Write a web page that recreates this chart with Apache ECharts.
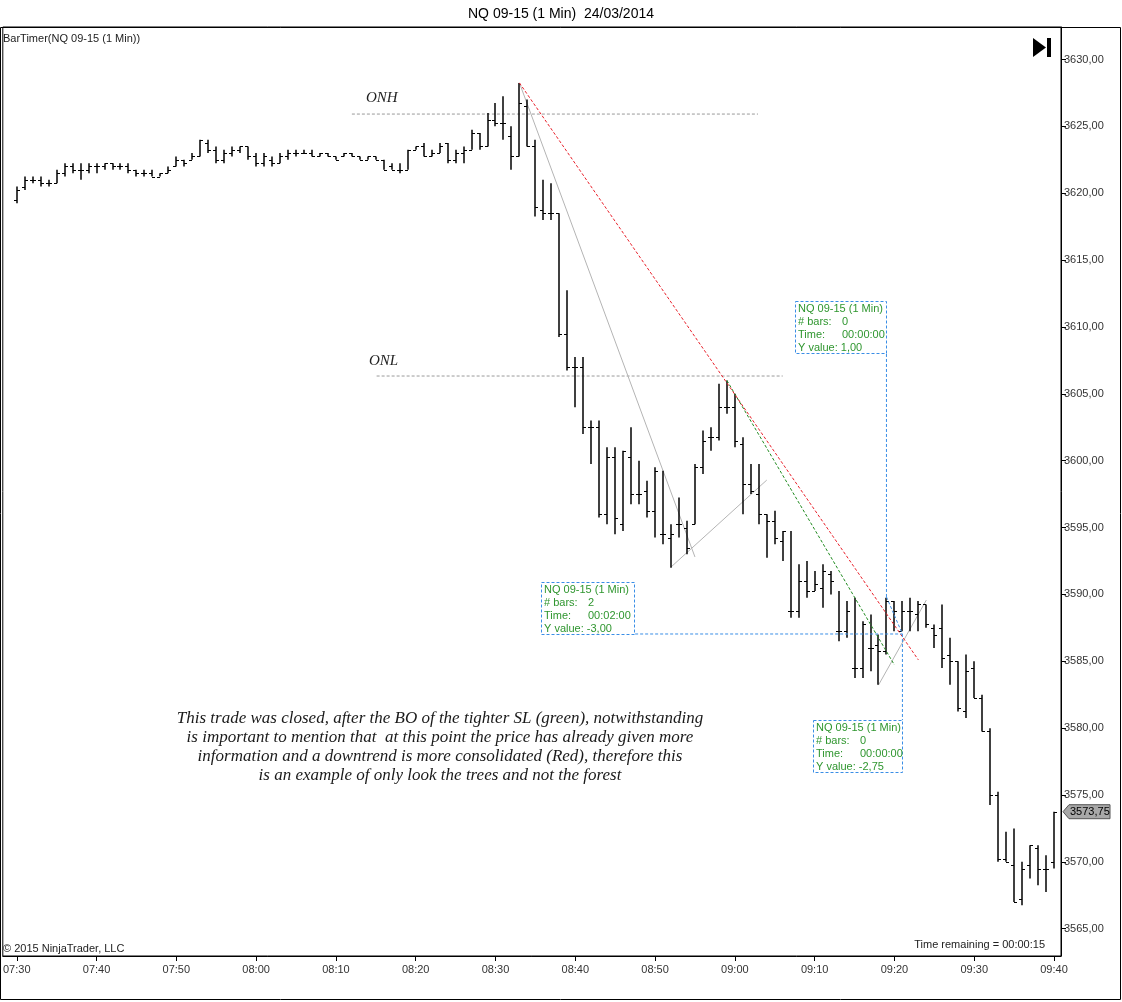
<!DOCTYPE html>
<html>
<head>
<meta charset="utf-8">
<script src="https://cdn.jsdelivr.net/npm/echarts@6/dist/echarts.min.js"></script>
<style>
html, body { margin: 0; padding: 0; background: #fff; }
#chart { width: 1122px; height: 1002px; }
</style>
</head>
<body>
<div id="chart"></div>
<script>
// 1 min bars, 07:30 .. 09:40
var opens = [
    3619.5, 3620.5, 3621.0, 3621.0, 3620.75, 3620.75, 3621.5, 3622.0, 3621.75, 3621.75,
    3622.0, 3622.0, 3622.25, 3622.0, 3622.0, 3621.75, 3621.5, 3621.5, 3621.25, 3621.5,
    3622.0, 3622.5, 3622.5, 3622.75, 3623.75, 3623.25, 3622.5, 3623.0, 3623.25, 3623.5,
    3622.75, 3622.25, 3622.5, 3622.25, 3622.75, 3623.0, 3623.0, 3623.0, 3622.75, 3623.0,
    3622.75, 3622.75, 3623.0, 3622.75, 3622.5, 3622.75, 3622.5, 3622.0, 3621.75, 3621.75,
    3623.25, 3623.5, 3622.75, 3623.0, 3623.75, 3622.5, 3623.0, 3623.25, 3624.5, 3623.5,
    3625.5, 3625.25, 3624.25, 3622.75, 3626.5, 3623.5, 3618.75, 3618.5, 3618.5, 3609.5,
    3607.0, 3607.0, 3602.5, 3602.5, 3596.0, 3600.25, 3595.25, 3600.25, 3597.5, 3597.75,
    3596.25, 3594.5, 3594.25, 3595.25, 3595.0, 3595.25, 3599.5, 3601.75, 3601.75, 3604.0,
    3604.0, 3601.25, 3598.25, 3597.5, 3596.0, 3595.5, 3594.0, 3588.75, 3588.75, 3591.0,
    3590.25, 3590.5, 3591.5, 3587.25, 3587.25, 3584.5, 3584.5, 3586.0, 3586.25, 3585.75,
    3589.5, 3587.25, 3588.75, 3588.5, 3589.25, 3587.5, 3587.5, 3585.5, 3585.0, 3581.25,
    3584.5, 3582.25, 3579.75, 3575.0, 3570.25, 3569.75, 3567.25, 3569.75, 3571.0, 3569.5,
    3570.0
];
var highs = [
    3620.5, 3621.25, 3621.25, 3621.25, 3621.0, 3621.75, 3622.25, 3622.25, 3622.25, 3622.25,
    3622.25, 3622.25, 3622.25, 3622.25, 3622.25, 3621.75, 3621.75, 3621.75, 3621.5, 3622.0,
    3622.75, 3622.5, 3623.0, 3624.0, 3624.0, 3623.5, 3623.25, 3623.5, 3623.5, 3623.5,
    3623.0, 3623.0, 3622.75, 3623.0, 3623.25, 3623.25, 3623.25, 3623.25, 3623.0, 3623.0,
    3622.75, 3623.0, 3623.0, 3622.75, 3622.75, 3622.75, 3622.5, 3622.25, 3622.25, 3623.25,
    3623.5, 3623.75, 3623.25, 3623.75, 3623.75, 3623.25, 3623.5, 3624.75, 3624.5, 3626.0,
    3626.75, 3627.25, 3625.0, 3628.25, 3627.0, 3624.0, 3621.0, 3620.75, 3618.5, 3612.75,
    3607.75, 3607.75, 3603.0, 3603.0, 3601.0, 3601.0, 3600.75, 3602.5, 3600.0, 3598.5,
    3599.5, 3599.25, 3595.25, 3597.25, 3595.5, 3599.75, 3602.25, 3602.5, 3605.75, 3606.0,
    3605.0, 3601.75, 3599.75, 3599.75, 3596.0, 3596.25, 3594.75, 3594.75, 3592.25, 3592.5,
    3591.75, 3592.25, 3591.75, 3590.25, 3589.5, 3589.75, 3588.0, 3588.5, 3587.0, 3589.75,
    3589.5, 3589.5, 3589.75, 3589.5, 3589.25, 3587.75, 3589.25, 3586.75, 3585.0, 3585.5,
    3585.0, 3582.5, 3580.0, 3575.25, 3572.25, 3572.5, 3570.0, 3571.25, 3571.25, 3570.5,
    3573.75
];
var lows = [
    3619.25, 3620.25, 3620.75, 3620.5, 3620.5, 3620.75, 3621.25, 3621.5, 3621.0, 3621.5,
    3621.5, 3621.75, 3621.75, 3621.75, 3621.5, 3621.25, 3621.25, 3621.25, 3621.25, 3621.5,
    3622.0, 3622.0, 3622.5, 3622.75, 3623.0, 3622.25, 3622.25, 3622.75, 3623.0, 3622.5,
    3622.0, 3622.0, 3622.0, 3622.25, 3622.5, 3622.75, 3623.0, 3622.75, 3622.75, 3622.75,
    3622.5, 3622.75, 3622.75, 3622.5, 3622.5, 3622.5, 3621.75, 3621.75, 3621.5, 3621.75,
    3623.25, 3622.75, 3622.75, 3623.0, 3622.25, 3622.25, 3622.25, 3623.25, 3623.25, 3623.5,
    3625.0, 3624.0, 3621.75, 3622.75, 3623.5, 3618.25, 3618.0, 3618.0, 3609.25, 3606.75,
    3604.0, 3602.0, 3599.75, 3595.75, 3595.25, 3594.5, 3594.75, 3596.75, 3596.75, 3595.75,
    3594.25, 3593.75, 3592.0, 3594.25, 3593.0, 3595.25, 3599.0, 3600.75, 3601.5, 3603.5,
    3601.0, 3596.0, 3597.5, 3595.25, 3592.75, 3593.75, 3592.5, 3588.25, 3588.25, 3589.75,
    3590.25, 3589.0, 3590.0, 3586.5, 3586.75, 3583.75, 3583.75, 3584.25, 3583.25, 3585.5,
    3587.25, 3587.25, 3587.25, 3587.25, 3587.5, 3586.0, 3584.5, 3583.25, 3581.25, 3580.75,
    3582.25, 3579.75, 3574.25, 3570.0, 3570.0, 3567.0, 3566.75, 3568.75, 3568.25, 3567.75,
    3569.5
];
var closes = [
    3620.25, 3621.0, 3621.0, 3620.75, 3620.75, 3621.5, 3622.0, 3621.75, 3621.75, 3622.0,
    3622.0, 3622.25, 3622.0, 3622.0, 3621.75, 3621.5, 3621.5, 3621.25, 3621.5, 3621.75,
    3622.5, 3622.25, 3622.75, 3624.0, 3623.25, 3622.5, 3623.0, 3623.25, 3623.5, 3622.75,
    3622.25, 3622.75, 3622.25, 3622.75, 3623.0, 3623.0, 3623.0, 3622.75, 3623.0, 3622.75,
    3622.5, 3623.0, 3622.75, 3622.5, 3622.75, 3622.5, 3621.75, 3621.75, 3621.75, 3623.25,
    3623.5, 3622.75, 3623.0, 3623.5, 3622.5, 3623.0, 3623.25, 3624.5, 3623.5, 3625.5,
    3625.25, 3625.25, 3622.75, 3626.75, 3623.5, 3619.0, 3618.5, 3618.5, 3609.5, 3607.0,
    3607.0, 3602.5, 3602.5, 3596.0, 3600.25, 3595.75, 3600.75, 3597.5, 3597.5, 3596.25,
    3599.25, 3594.5, 3594.5, 3595.25, 3593.5, 3599.5, 3601.5, 3601.75, 3604.0, 3604.0,
    3601.5, 3598.25, 3597.75, 3596.0, 3595.5, 3594.25, 3594.75, 3588.75, 3591.0, 3590.25,
    3590.75, 3591.75, 3591.0, 3587.25, 3588.75, 3584.5, 3587.75, 3586.0, 3585.75, 3589.5,
    3588.75, 3588.75, 3588.75, 3589.25, 3587.75, 3587.0, 3585.25, 3585.0, 3581.5, 3584.25,
    3582.25, 3579.75, 3575.0, 3570.25, 3570.0, 3567.0, 3569.5, 3571.25, 3569.5, 3569.5,
    3573.75
];

var times = [];
for (var i = 0; i < opens.length; i++) {
    var m = 7 * 60 + 30 + i;
    times.push(('0' + Math.floor(m / 60)).slice(-2) + ':' + ('0' + (m % 60)).slice(-2));
}
var xTicks = [0, 10, 20, 30, 40, 50, 60, 70, 80, 90, 100, 110, 120, 130];
var yTicks = [3565, 3570, 3575, 3580, 3585, 3590, 3595, 3600, 3605, 3610, 3615, 3620, 3625, 3630];
var lastPrice = 3573.75;

// drawn lines, [bar index, price]
var redLine = [[63, 3628.25], [113, 3585.1]];
var greenLine = [[89, 3606.0], [110, 3584.72]];
var grayLines = [
    [[63, 3628.25], [85, 3592.8]],
    [[82, 3592.05], [94, 3598.55]],
    [[108, 3583.22], [114, 3589.58]]
];
var onhLine = [[42, 3625.92], [92.9, 3625.92]];
var onlLine = [[45.1, 3606.33], [96, 3606.33]];
var rulerLines = [
    [[109, 3607.98], [109, 3589.81]],
    [[109, 3589.81], [111, 3587.04]],
    [[77.5, 3587.04], [111, 3587.04]],
    [[111, 3587.04], [111, 3580.6]]
];

var comment = [
    'This trade was closed, after the BO of the tighter SL (green), notwithstanding',
    'is important to mention that  at this point the price has already given more',
    'information and a downtrend is more consolidated (Red), therefore this',
    'is an example of only look the trees and not the forest'
];
var boxes = [
    { x: 795, y: 301, w: 91, bars: '0', time: '00:00:00', yv: '1,00' },
    { x: 541, y: 582, w: 93, bars: '2', time: '00:02:00', yv: '-3,00' },
    { x: 813, y: 720, w: 89, bars: '0', time: '00:00:00', yv: '-2,75' }
];

var chart = echarts.init(document.getElementById('chart'));
var sans = '"Liberation Sans", Arial, sans-serif';

function fmtPrice(v) {
    return v.toFixed(2).replace('.', ',');
}

function renderOhlc(params, api) {
    var x = api.value(0);
    var o = api.coord([x, api.value(1)]);
    var h = api.coord([x, api.value(2)]);
    var l = api.coord([x, api.value(3)]);
    var c = api.coord([x, api.value(4)]);
    var px = Math.round(h[0]);
    var y2 = Math.max(l[1], h[1] + 1);
    return {
        type: 'group',
        children: [
            { type: 'line', shape: { x1: px, y1: h[1], x2: px, y2: y2 }, style: { stroke: '#000', lineWidth: 1.5 } },
            { type: 'line', shape: { x1: px - 3, y1: Math.round(o[1]) + 0.5, x2: px, y2: Math.round(o[1]) + 0.5 }, style: { stroke: '#000', lineWidth: 1 } },
            { type: 'line', shape: { x1: px, y1: Math.round(c[1]) + 0.5, x2: px + 3, y2: Math.round(c[1]) + 0.5 }, style: { stroke: '#000', lineWidth: 1 } }
        ]
    };
}

function lineSeries(pts, color, dash, z) {
    return {
        type: 'line',
        data: pts,
        symbol: 'none',
        silent: true,
        z: z || 3,
        lineStyle: { color: color, width: 1, type: dash },
        animation: false
    };
}

var series = [{
    type: 'custom',
    renderItem: renderOhlc,
    data: opens.map(function (o, i) { return [i, o, highs[i], lows[i], closes[i]]; }),
    encode: { x: 0, y: [1, 2, 3, 4] },
    z: 4,
    animation: false
}];
series.push(lineSeries(onhLine, '#9a9a9a', [3, 2]));
series.push(lineSeries(onlLine, '#9a9a9a', [3, 2]));
grayLines.forEach(function (g) { series.push(lineSeries(g, '#b4b4b4', 'solid')); });
series.push(lineSeries(greenLine, '#1f8a1f', [3, 2], 5));
series.push(lineSeries(redLine, '#e8202a', [3, 2], 5));
rulerLines.forEach(function (r) { series.push(lineSeries(r, '#3a8ee6', [3, 2], 5)); });

chart.setOption({
    animation: false,
    grid: { left: 1, right: 61, top: 27, bottom: 46, show: true, borderColor: '#000', borderWidth: 1 },
    xAxis: {
        type: 'value',
        min: -1.75,
        max: 130.875,
        axisLine: { show: true, onZero: false, lineStyle: { color: '#000' } },
        axisTick: { show: true, customValues: xTicks, length: 5, lineStyle: { color: '#000' } },
        axisLabel: {
            customValues: xTicks,
            formatter: function (v) { return times[v]; },
            color: '#333', fontSize: 11, fontFamily: sans, margin: 8
        },
        splitLine: { show: false }
    },
    yAxis: {
        type: 'value',
        position: 'right',
        min: 3562.96,
        max: 3632.43,
        axisLine: { show: true, onZero: false, lineStyle: { color: '#000' } },
        axisTick: { show: true, customValues: yTicks, length: 5, lineStyle: { color: '#000' } },
        axisLabel: {
            customValues: yTicks,
            formatter: fmtPrice,
            color: '#333', fontSize: 11, fontFamily: sans, margin: 3
        },
        splitLine: { show: false }
    },
    series: series
});

var py = chart.convertToPixel({ yAxisIndex: 0 }, lastPrice);
var graphics = [
    { type: 'rect', shape: { x: 0.5, y: 27.5, width: 1120, height: 972 }, style: { fill: null, stroke: '#000', lineWidth: 1 }, silent: true, z: 1 },
    { type: 'text', x: 561, y: 14, style: { text: 'NQ 09-15 (1 Min)  24/03/2014', font: '14px ' + sans, fill: '#000', textAlign: 'center', textVerticalAlign: 'middle' } },
    { type: 'text', x: 3, y: 39, style: { text: 'BarTimer(NQ 09-15 (1 Min))', font: '11px ' + sans, fill: '#222', textVerticalAlign: 'middle' } },
    { type: 'polygon', shape: { points: [[1033, 38], [1033, 57], [1046, 47.5]] }, style: { fill: '#000' } },
    { type: 'rect', shape: { x: 1047, y: 38, width: 4, height: 19 }, style: { fill: '#000' } },
    { type: 'text', x: 3, y: 949, style: { text: '\u00a9 2015 NinjaTrader, LLC', font: '11px ' + sans, fill: '#222', textVerticalAlign: 'middle' } },
    { type: 'text', x: 1045, y: 945, style: { text: 'Time remaining = 00:00:15', font: '11px ' + sans, fill: '#222', textAlign: 'right', textVerticalAlign: 'middle' } },
    { type: 'text', x: 366, y: 98, style: { text: 'ONH', font: 'italic 15px "Liberation Serif", serif', fill: '#222', textVerticalAlign: 'middle' } },
    { type: 'text', x: 369, y: 361, style: { text: 'ONL', font: 'italic 15px "Liberation Serif", serif', fill: '#222', textVerticalAlign: 'middle' } },
    { type: 'text', x: 440, y: 709, style: { text: comment.join('\n'), font: 'italic 17px "Liberation Serif", serif', lineHeight: 19, fill: '#1a1a1a', textAlign: 'center' } },
    {
        type: 'polygon',
        shape: { points: [[1063, py], [1069, py - 7], [1110, py - 7], [1110, py + 7], [1069, py + 7]] },
        style: { fill: '#a8a8a8', stroke: '#555', lineWidth: 1 }, z: 10
    },
    { type: 'text', x: 1070, y: py, style: { text: fmtPrice(lastPrice), font: '11px ' + sans, fill: '#000', textVerticalAlign: 'middle' }, z: 11 }
];
boxes.forEach(function (b) {
    var tc = '#2f962f';
    graphics.push({ type: 'rect', shape: { x: b.x + 0.5, y: b.y + 0.5, width: b.w, height: 52 }, style: { fill: '#fff', stroke: '#3a8ee6', lineWidth: 1, lineDash: [3, 2] }, z: 6 });
    var rows = [['NQ 09-15 (1 Min)', ''], ['# bars:', b.bars], ['Time:', b.time], ['Y value: ' + b.yv, '']];
    rows.forEach(function (r, k) {
        var ty = b.y + 8 + k * 13;
        graphics.push({ type: 'text', x: b.x + 3, y: ty, style: { text: r[0], font: '11px ' + sans, fill: tc, textVerticalAlign: 'middle' }, z: 7 });
        if (r[1]) {
            graphics.push({ type: 'text', x: b.x + 47, y: ty, style: { text: r[1], font: '11px ' + sans, fill: tc, textVerticalAlign: 'middle' }, z: 7 });
        }
    });
});
chart.setOption({ graphic: graphics });
</script>
</body>
</html>
